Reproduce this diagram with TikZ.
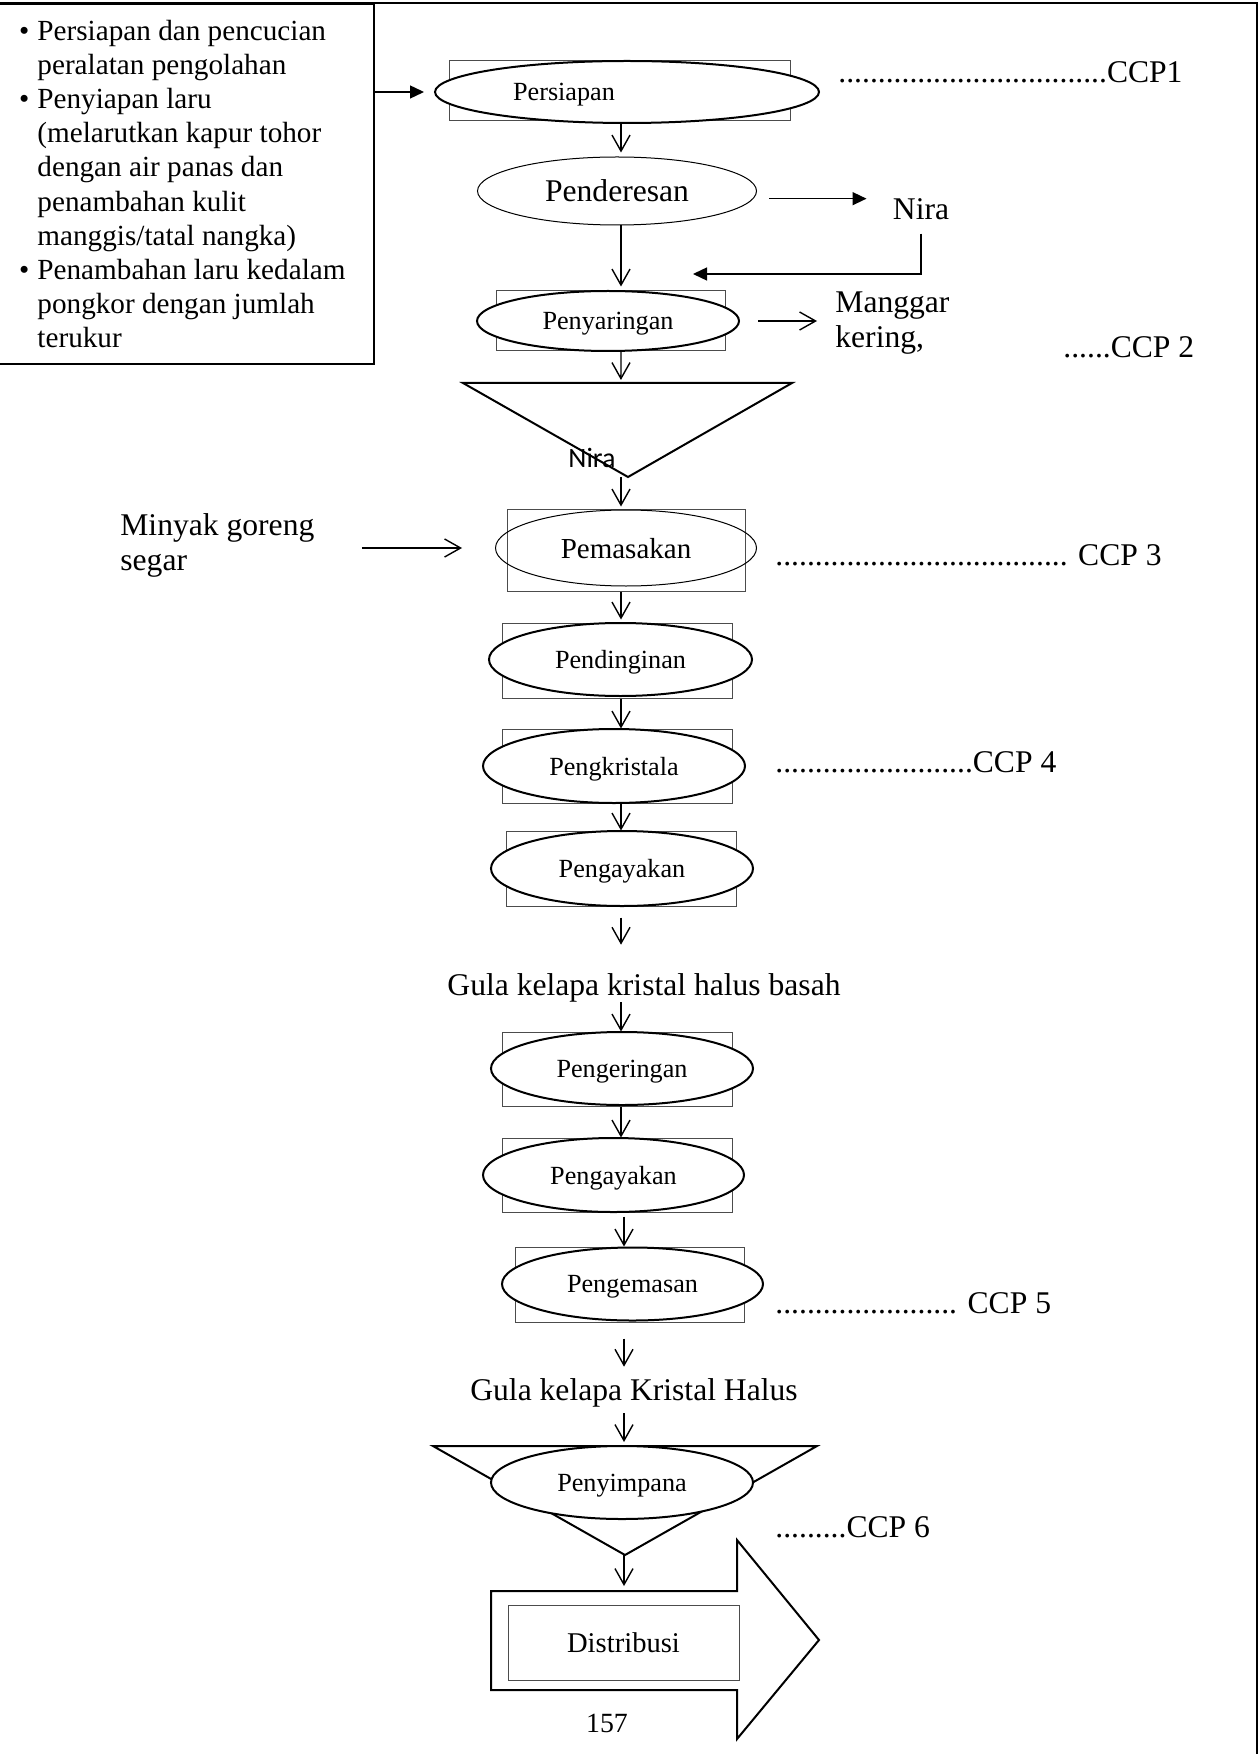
\documentclass[tikz,border=0pt]{standalone}
\usepackage{fontspec}
\setmainfont{Liberation Serif}
\newfontfamily\calibri{Carlito}
\usepackage{tikz}
\usetikzlibrary{arrows.meta,shapes.geometric}

\begin{document}
\begin{tikzpicture}[
  x=0.5pt, y=-0.5pt,
  arr/.style={-{Straight Barb[length=8pt,width=9pt]}, line width=0.7pt},
  farr/.style={-{Triangle[length=7pt,width=6.5pt]}, line width=0.7pt},
  txt/.style={inner sep=0pt, font=\fontsize{15.8}{17.5}\selectfont},
  stepbox/.style={draw=black!70, line width=0.5pt, inner sep=0pt, minimum width=115pt, minimum height=37pt},
  proc/.style={ellipse, draw, line width=1pt, fill=white, inner sep=0pt, text depth=0pt, minimum width=131pt, minimum height=37pt, font=\fontsize{13.1}{15}\selectfont},
  tank/.style={line width=1pt, line join=miter}
]
\useasboundingbox (0,0) rectangle (1258,1754);
\draw[line width=1pt] (0,3) -- (1257,3) -- (1257,1754);
\coordinate (axis) at (621,0);
\coordinate (axisb) at (624,0);

% Preparation list
\node[draw, line width=1pt, anchor=north east, minimum width=188.5pt, minimum height=180pt, inner sep=0pt, align=left, font=\fontsize{14.6}{17.05}\selectfont] (prep) at (375,3)
  {\llap{\textbullet\hspace{4pt}}Persiapan dan pencucian\\peralatan pengolahan\\
   \llap{\textbullet\hspace{4pt}}Penyiapan laru\\(melarutkan kapur tohor\\dengan air panas dan\\penambahan kulit\\manggis/tatal nangka)\\
   \llap{\textbullet\hspace{4pt}}Penambahan laru kedalam\kern-6pt\\pongkor dengan jumlah\\terukur};

% Process steps
\node[stepbox, minimum width=170.5pt, minimum height=30pt] (persiapanbox) at (619.5,91) {};
\node[proc, minimum width=192pt, minimum height=31pt] (persiapan) at (627,92) {Persiapan\hspace*{63pt}};
\node[proc, line width=0.5pt, minimum width=139.5pt, minimum height=34pt, font=\fontsize{15.8}{17.5}\selectfont] (penderesan) at (617,191) {Penderesan};
\node[stepbox, minimum width=114.5pt, minimum height=30pt] (saringbox) at (610.5,321) {};
\node[proc, minimum height=30pt] (saring) at (608,321) {Penyaringan};

\draw[tank] (463,383) -- coordinate[pos=0.48] (tanktop) (792,383) -- (628,477) coordinate (tankbot) -- cycle;
\node[inner sep=0pt, anchor=base, font=\calibri\fontsize{14}{16}\selectfont] (niratank) at (592,467) {Nira};

\node[stepbox, minimum width=119pt, minimum height=41pt] (masakbox) at (626,550) {};
\node[proc, fill=none, line width=0.5pt, minimum width=130.5pt, minimum height=38pt, font=\fontsize{14.5}{16}\selectfont] (masak) at (626,548) {Pemasakan};
\node[stepbox, minimum height=37.5pt] (dinginbox) at (617,660.5) {};
\node[proc, minimum width=131.5pt, minimum height=36.5pt] (dingin) at (620.5,659.5) {Pendinginan};
\node[stepbox] (kristalbox) at (617,766) {};
\node[proc] (kristal) at (614,766) {Pengkristala};
\node[stepbox, minimum height=37.5pt] (ayakbox) at (621,868.5) {};
\node[proc, minimum height=37.5pt] (ayak) at (622,868.5) {Pengayakan};

\node[txt, anchor=base] (gula1) at (644,995) {Gula kelapa kristal halus basah};

\node[stepbox] (keringbox) at (617,1069) {};
\node[proc, minimum height=36.5pt] (kering) at (622,1068.5) {Pengeringan};
\node[stepbox] (ayak2box) at (617,1175) {};
\node[proc, minimum width=130.5pt] (ayak2) at (613.5,1175) {Pengayakan};
\node[stepbox, minimum width=114.5pt, minimum height=37.5pt] (kemasbox) at (629.5,1284.5) {};
\node[proc, minimum width=130.5pt, minimum height=36.5pt] (kemas) at (632.5,1284) {Pengemasan};

\node[txt, anchor=base] (gula2) at (634,1400) {Gula kelapa Kristal Halus};

\draw[tank] (433,1446) -- (817,1446) -- (625,1555) coordinate (simpanbot) -- cycle;
\node[proc, minimum height=36.5pt] (simpan) at (622,1482.5) {Penyimpana};

\draw[tank] (491,1591) -- (737,1591) -- (737,1540) -- (819,1640) -- (737,1739) -- (737,1690) -- (491,1690) -- cycle;
\coordinate (shiptop) at (624,1591);
\node[stepbox, minimum width=115.5pt, minimum height=37.5pt, font=\fontsize{14.3}{16}\selectfont] (distribusi) at (623.5,1642.5) {Distribusi};
\node[inner sep=0pt, anchor=base, font=\fontsize{13.9}{16}\selectfont] (page) at (607,1732) {157};

% Side texts
\node[txt, anchor=base] (nira) at (921,220) {Nira};
\coordinate (nirain) at (693,274);
\node[txt, anchor=north west, align=left] (manggar) at (835,291.5) {Manggar\\kering,};
\node[txt, anchor=north west, align=left] (minyak) at (120,513.5) {Minyak goreng\\segar};

\node[txt, anchor=base west] (ccp1) at (838,83) {..................................CCP1};
\node[txt, anchor=base west] (ccp2) at (1063,358) {......CCP 2};
\node[txt, anchor=base west] (ccp3) at (775,565) {..................................... CCP 3};
\node[txt, anchor=base west] (ccp4) at (775,772) {.........................CCP 4};
\node[txt, anchor=base west] (ccp5) at (775,1313) {....................... CCP 5};
\node[txt, anchor=base west] (ccp6) at (775,1537) {.........CCP 6};

% Arrows
\draw[farr, shorten >=5pt] (prep.east |- persiapan) -- (persiapan.west);
\draw[farr, shorten <=6pt, shorten >=13pt] (penderesan.east |- nira.north) -- (nira.north west);
\draw[farr, shorten <=6.5pt] (nira.south) |- (nirain);
\draw[arr, shorten <=9pt, shorten >=9pt] (saring.east) -- (saring.east -| manggar.west);
\draw[arr, shorten <=23.5pt, shorten >=16.5pt] (minyak.east |- masak.west) -- (masak.west);

\draw[arr, shorten >=2pt] (persiapan.south -| axis) -- (penderesan.north -| axis);
\draw[arr, shorten >=2pt] (penderesan.south -| axis) -- (saringbox.north -| axis);
\draw[arr, shorten >=1.5pt] (saringbox.south -| axis) -- (tanktop);
\draw[arr, shorten >=1pt] (tankbot -| axis) -- (masakbox.north -| axis);
\draw[arr, shorten >=1.5pt] (masakbox.south -| axis) -- (dinginbox.north -| axis);
\draw[arr] (dinginbox.south -| axis) -- (kristalbox.north -| axis);
\draw[arr] (kristalbox.south -| axis) -- (ayakbox.north -| axis);
\draw[arr, shorten <=5.5pt, shorten >=14pt] (ayakbox.south -| axis) -- (gula1.north -| axis);
\draw[arr] (gula1.south -| axis) -- (keringbox.north -| axis);
\draw[arr] (keringbox.south -| axis) -- (ayak2box.north -| axis);
\draw[arr, shorten <=2pt] (ayak2box.south -| axisb) -- (kemasbox.north -| axisb);
\draw[arr, shorten <=8pt, shorten >=5.5pt] (kemasbox.south -| axisb) -- (gula2.north -| axisb);
\draw[arr, shorten <=3pt, shorten >=1.5pt] (gula2.south -| axisb) -- (simpan.north -| axisb);
\draw[arr, shorten >=2.5pt] (simpanbot -| axisb) -- (shiptop);
\end{tikzpicture}
\end{document}
